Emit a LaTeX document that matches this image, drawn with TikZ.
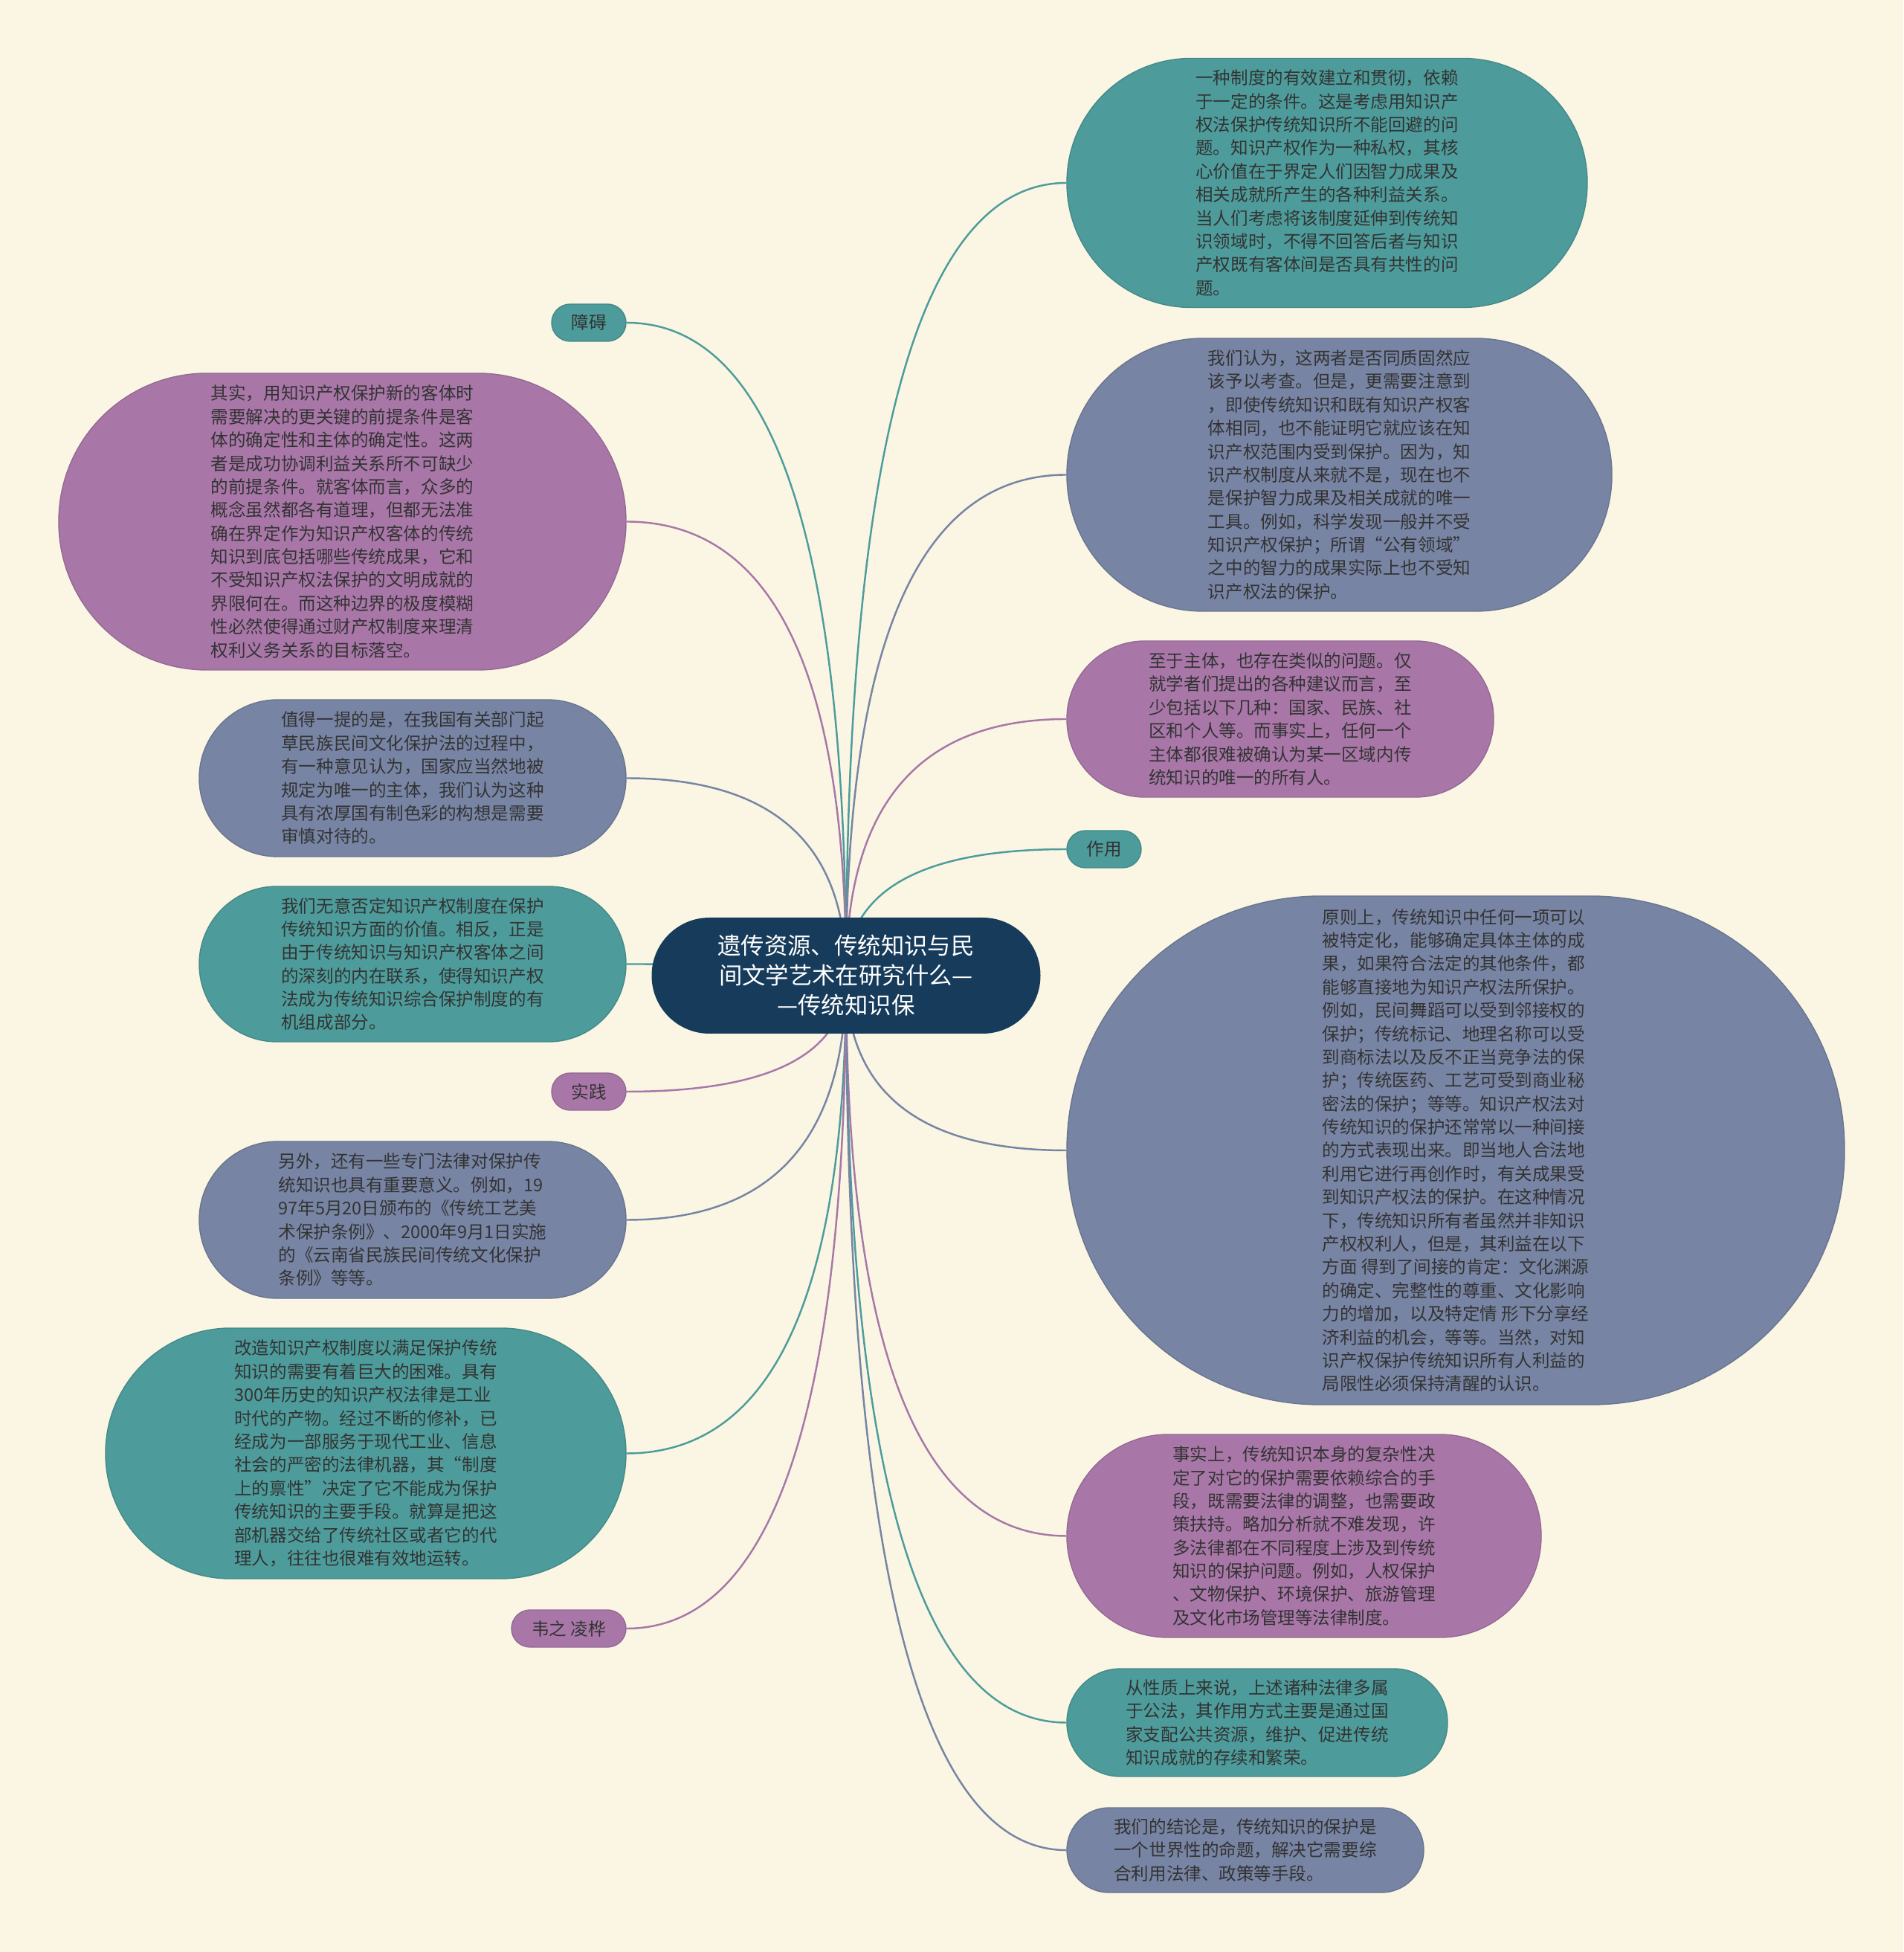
\documentclass[tikz,border=0pt]{standalone}
\usepackage{fontspec}
\setmainfont{Noto Sans CJK SC}
\usetikzlibrary{calc,backgrounds}
\definecolor{paper}{RGB}{250,246,227}
\definecolor{tealnode}{RGB}{77,156,155}
\definecolor{slatenode}{RGB}{119,132,163}
\definecolor{plumnode}{RGB}{168,119,168}
\definecolor{rootnode}{RGB}{23,59,91}
\definecolor{ink}{RGB}{51,51,51}
\newcommand\leaffont{\fontsize{6.7pt}{8.93pt}\selectfont}
\newcommand\rootfont{\fontsize{8.93pt}{11.38pt}\selectfont}
\begin{document}
\begin{tikzpicture}[
  bub/.style={rectangle, inner sep=0pt, text=ink, font=\leaffont, align=left, line width=0.4pt},
  bubsize/.style 2 args={minimum width=#1cm, minimum height=#2cm, rounded corners=#2*0.499cm},
  tealbub/.style={bub, fill=tealnode, draw=tealnode!88!black},
  slatebub/.style={bub, fill=slatenode, draw=slatenode!88!black},
  plumbub/.style={bub, fill=plumnode, draw=plumnode!88!black},
  link/.style={line width=0.7pt},
]
% centre
\node[rectangle, fill=rootnode, text=white, font=\rootfont, align=center, inner sep=0pt,
  bubsize={5.23}{1.56}] (root) at (0,0)
  {遗传资源、传统知识与民\\间文学艺术在研究什么—\\—传统知识保};

% right side
\node[tealbub, bubsize={7.00}{3.35}] (r1) at (6.47,10.66)
  {一种制度的有效建立和贯彻，依赖\\于一定的条件。这是考虑用知识产\\权法保护传统知识所不能回避的问\\题。知识产权作为一种私权，其核\\心价值在于界定人们因智力成果及\\相关成就所产生的各种利益关系。\\当人们考虑将该制度延伸到传统知\\识领域时，不得不回答后者与知识\\产权既有客体间是否具有共性的问\\题。};
\node[slatebub, bubsize={7.33}{3.67}] (r2) at (6.635,6.735)
  {我们认为，这两者是否同质固然应\\该予以考查。但是，更需要注意到\\，即使传统知识和既有知识产权客\\体相同，也不能证明它就应该在知\\识产权范围内受到保护。因为，知\\识产权制度从来就不是，现在也不\\是保护智力成果及相关成就的唯一\\工具。例如，科学发现一般并不受\\知识产权保护；所谓“公有领域”\\之中的智力的成果实际上也不受知\\识产权法的保护。};
\node[plumbub, bubsize={5.74}{2.10}] (r3) at (5.84,3.45)
  {至于主体，也存在类似的问题。仅\\就学者们提出的各种建议而言，至\\少包括以下几种：国家、民族、社\\区和个人等。而事实上，任何一个\\主体都很难被确认为某一区域内传\\统知识的唯一的所有人。};
\node[tealbub, bubsize={1.00}{0.50}] (r4) at (3.47,1.70) {作用};
\node[slatebub, bubsize={10.46}{6.84}] (r5) at (8.20,-2.35)
  {原则上，传统知识中任何一项可以\\被特定化，能够确定具体主体的成\\果，如果符合法定的其他条件，都\\能够直接地为知识产权法所保护。\\例如，民间舞蹈可以受到邻接权的\\保护；传统标记、地理名称可以受\\到商标法以及反不正当竞争法的保\\护；传统医药、工艺可受到商业秘\\密法的保护；等等。知识产权法对\\传统知识的保护还常常以一种间接\\的方式表现出来。即当地人合法地\\利用它进行再创作时，有关成果受\\到知识产权法的保护。在这种情况\\下，传统知识所有者虽然并非知识\\产权权利人，但是，其利益在以下\\方面 得到了间接的肯定：文化渊源\\的确定、完整性的尊重、文化影响\\力的增加，以及特定情 形下分享经\\济利益的机会，等等。当然，对知\\识产权保护传统知识所有人利益的\\局限性必须保持清醒的认识。};
\node[plumbub, bubsize={6.38}{2.73}] (r6) at (6.16,-7.535)
  {事实上，传统知识本身的复杂性决\\定了对它的保护需要依赖综合的手\\段，既需要法律的调整，也需要政\\策扶持。略加分析就不难发现，许\\多法律都在不同程度上涉及到传统\\知识的保护问题。例如，人权保护\\、文物保护、环境保护、旅游管理\\及文化市场管理等法律制度。};
\node[tealbub, bubsize={5.12}{1.45}] (r7) at (5.53,-10.045)
  {从性质上来说，上述诸种法律多属\\于公法，其作用方式主要是通过国\\家支配公共资源，维护、促进传统\\知识成就的存续和繁荣。};
\node[slatebub, bubsize={4.80}{1.14}] (r8) at (5.37,-11.76)
  {我们的结论是，传统知识的保护是\\一个世界性的命题，解决它需要综\\合利用法律、政策等手段。};

% left side
\node[tealbub, bubsize={1.00}{0.50}] (l1) at (-3.46,8.78) {障碍};
\node[plumbub, bubsize={7.63}{3.99}] (l2) at (-6.775,6.105)
  {其实，用知识产权保护新的客体时\\需要解决的更关键的前提条件是客\\体的确定性和主体的确定性。这两\\者是成功协调利益关系所不可缺少\\的前提条件。就客体而言，众多的\\概念虽然都各有道理，但都无法准\\确在界定作为知识产权客体的传统\\知识到底包括哪些传统成果，它和\\不受知识产权法保护的文明成就的\\界限何在。而这种边界的极度模糊\\性必然使得通过财产权制度来理清\\权利义务关系的目标落空。};
\node[slatebub, bubsize={5.74}{2.11}] (l3) at (-5.83,2.655)
  {值得一提的是，在我国有关部门起\\草民族民间文化保护法的过程中，\\有一种意见认为，国家应当然地被\\规定为唯一的主体，我们认为这种\\具有浓厚国有制色彩的构想是需要\\审慎对待的。};
\node[tealbub, bubsize={5.74}{2.09}] (l4) at (-5.83,0.155)
  {我们无意否定知识产权制度在保护\\传统知识方面的价值。相反，正是\\由于传统知识与知识产权客体之间\\的深刻的内在联系，使得知识产权\\法成为传统知识综合保护制度的有\\机组成部分。};
\node[plumbub, bubsize={1.00}{0.50}] (l5) at (-3.46,-1.56) {实践};
\node[slatebub, bubsize={5.74}{2.11}] (l6) at (-5.83,-3.285)
  {另外，还有一些专门法律对保护传\\统知识也具有重要意义。例如，19\\97年5月20日颁布的《传统工艺美\\术保护条例》、2000年9月1日实施\\的《云南省民族民间传统文化保护\\条例》等等。};
\node[tealbub, bubsize={7.00}{3.37}] (l7) at (-6.46,-6.425)
  {改造知识产权制度以满足保护传统\\知识的需要有着巨大的困难。具有\\300年历史的知识产权法律是工业\\时代的产物。经过不断的修补，已\\经成为一部服务于现代工业、信息\\社会的严密的法律机器，其“制度\\上的禀性”决定了它不能成为保护\\传统知识的主要手段。就算是把这\\部机器交给了传统社区或者它的代\\理人，往往也很难有效地运转。};
\node[plumbub, bubsize={1.54}{0.50}] (l8) at (-3.73,-8.78) {韦之 凌桦};

% links behind the nodes
\begin{pgfonlayer}{background}
\fill[paper] (-11.38,13.12) rectangle (14.22,-13.13);
\foreach \n/\a/\c in {r1/west/tealnode, r2/west/slatenode, r3/west/plumnode,
    r4/west/tealnode, r5/west/slatenode, r6/west/plumnode, r7/west/tealnode,
    r8/west/slatenode, l1/east/tealnode, l2/east/plumnode, l3/east/slatenode,
    l4/east/tealnode, l5/east/plumnode, l6/east/slatenode, l7/east/tealnode,
    l8/east/plumnode}
  \draw[link, draw=\c] (root.center)
    .. controls ($(root.center)!0.667!(root.center |- \n.\a)$)
    and ($(\n.\a)!0.667!(root.center |- \n.\a)$) .. (\n.\a);
\end{pgfonlayer}
\end{tikzpicture}
\end{document}
